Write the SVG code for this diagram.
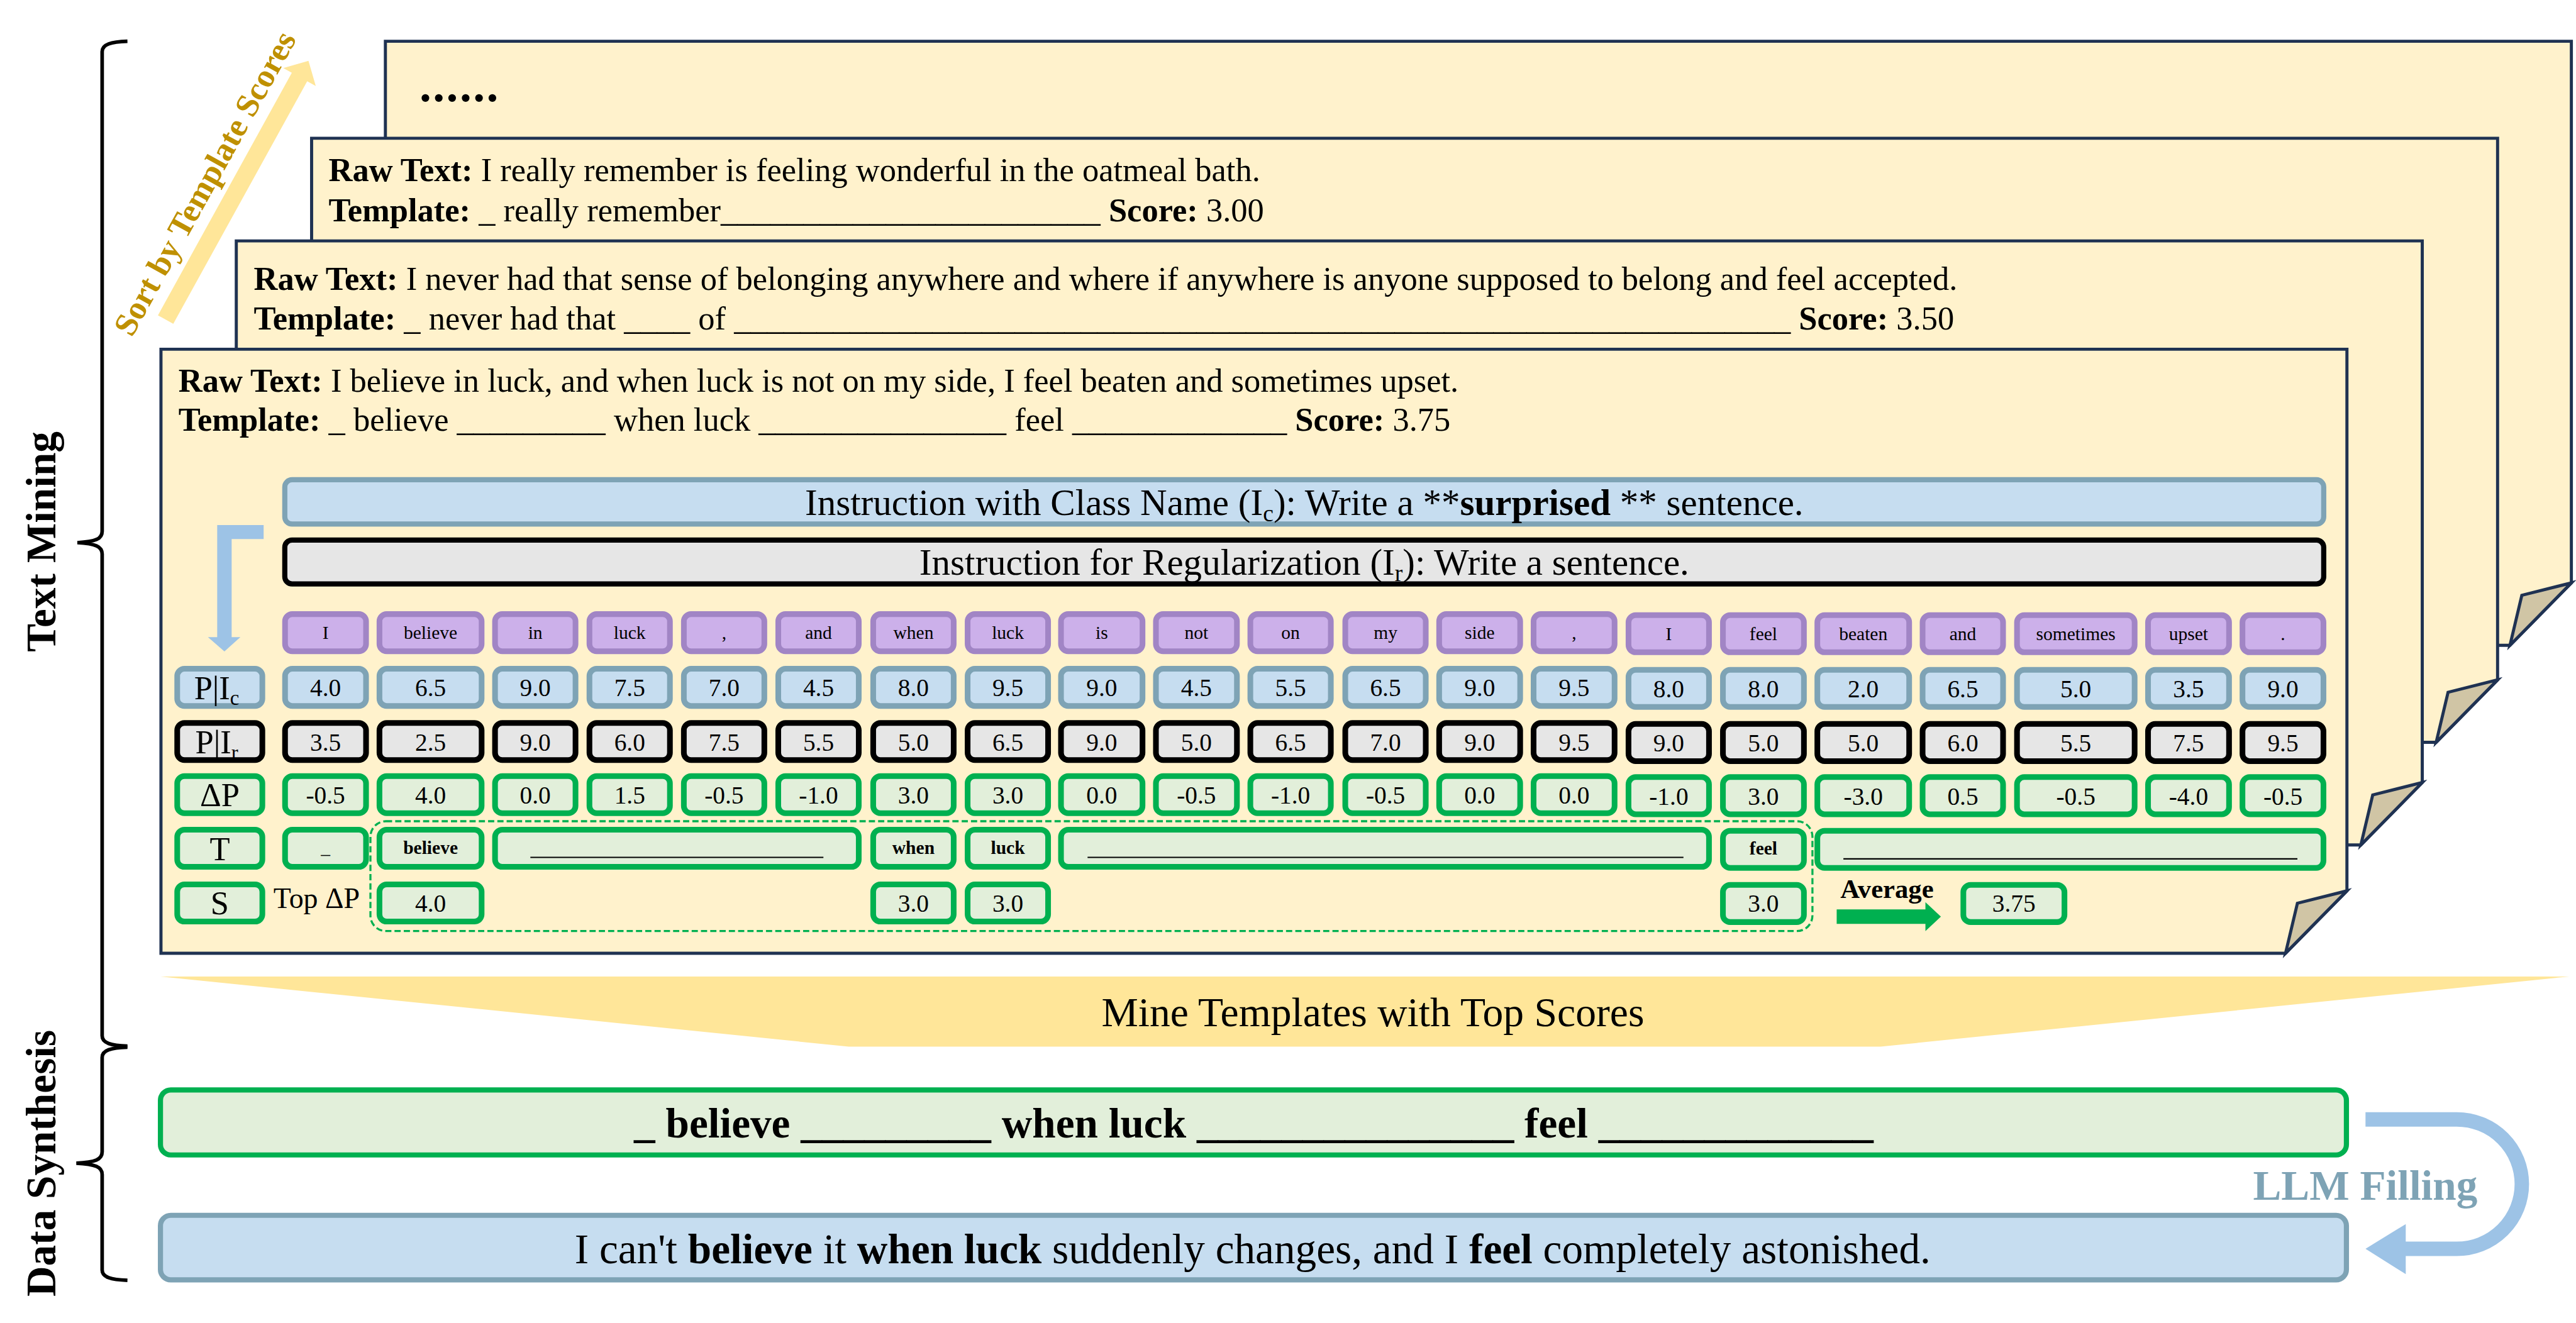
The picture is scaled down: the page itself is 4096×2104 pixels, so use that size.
<svg xmlns="http://www.w3.org/2000/svg" width="4096" height="2104" viewBox="0 0 4096 2104">
<style>
.card{fill:#FFF2CC;stroke:#1F3252;stroke-width:6;stroke-linejoin:miter}
.fold{fill:#D0C5A5;stroke:#1F3252;stroke-width:6;stroke-linejoin:miter}
.pur{fill:#CCB0EA;stroke:#A185C5;stroke-width:11}
.blu{fill:#C6DDF0;stroke:#7EA3B5;stroke-width:11}
.gry{fill:#E6E6E6;stroke:#000;stroke-width:11}
.grn{fill:#E2EFDA;stroke:#00B050;stroke-width:11}
.tk{font-size:36px;text-anchor:middle}
.nm{font-size:48px;text-anchor:middle}
.lb{font-size:64px;text-anchor:middle}
.ct{font-size:64px}
.ul{stroke:#000;stroke-width:2.5}
.brace{fill:none;stroke:#000;stroke-width:7}
text{fill:#000}
</style>
<rect width="4096" height="2104" fill="#fff"/>
<g transform="scale(0.82035)" font-family="'Liberation Serif','Times New Roman',serif">

<!-- cards -->
<g id="card4" transform="translate(747,80)">
<path class="card" d="M0,0 H4237 V1050 L4118,1171 H0 Z"/>
<path class="fold" d="M4237,1050 L4141,1074 L4118,1171 Z"/>
<text x="66" y="116" font-size="92" font-weight="bold" letter-spacing="3">......</text>
</g>
<g id="card3" transform="translate(604,268)">
<path class="card" d="M0,0 H4237 V1050 L4118,1171 H0 Z"/>
<path class="fold" d="M4237,1050 L4141,1074 L4118,1171 Z"/>
<text x="33" y="83" class="ct"><tspan font-weight="bold">Raw Text:</tspan> I really remember is feeling wonderful in the oatmeal bath.</text>
<text x="33" y="161" class="ct"><tspan font-weight="bold">Template:</tspan> _ really remember_______________________ <tspan font-weight="bold">Score:</tspan> 3.00</text>
</g>
<g id="card2" transform="translate(458,467)">
<path class="card" d="M0,0 H4237 V1050 L4118,1171 H0 Z"/>
<path class="fold" d="M4237,1050 L4141,1074 L4118,1171 Z"/>
<text x="34" y="95" class="ct"><tspan font-weight="bold">Raw Text:</tspan> I never had that sense of belonging anywhere and where if anywhere is anyone supposed to belong and feel accepted.</text>
<text x="34" y="172" class="ct"><tspan font-weight="bold">Template:</tspan> _ never had that ____ of ________________________________________________________________ <tspan font-weight="bold">Score:</tspan> 3.50</text>
</g>
<g id="card1" transform="translate(312,677)">
<path class="card" d="M0,0 H4237 V1050 L4118,1171 H0 Z"/>
<path class="fold" d="M4237,1050 L4141,1074 L4118,1171 Z"/>
<text x="34" y="82" class="ct"><tspan font-weight="bold">Raw Text:</tspan> I believe in luck, and when luck is not on my side, I feel beaten and sometimes upset.</text>
<text x="34" y="158" class="ct"><tspan font-weight="bold">Template:</tspan> _ believe _________ when luck _______________ feel _____________ <tspan font-weight="bold">Score:</tspan> 3.75</text>
</g>

<!-- sort arrow -->
<g id="sort" transform="translate(321,619.5) rotate(-61.1)">
<path d="M0,-17 L537,-17 L537,-36 L573,0 L537,36 L537,17 L0,17 Z" fill="#FFE699"/>
<text x="268" y="-40" font-size="64" font-weight="bold" style="fill:#BF9000" text-anchor="middle">Sort by Template Scores</text>
</g>

<!-- braces and section labels -->
<g id="textmining">
<path class="brace" d="M247,80 C215,81 198,86 198,100 V1030 C198,1045 185,1050 150,1052 C185,1054 198,1059 198,1074 V2008 C198,2022 215,2027 247,2028"/>
<text transform="translate(107,1050) rotate(-90)" font-size="82" font-weight="bold" text-anchor="middle">Text Mining</text>
</g>
<g id="datasynthesis">
<path class="brace" d="M247,2030 C215,2031 198,2036 198,2050 V2233 C198,2248 185,2253 148,2255 C185,2257 198,2262 198,2277 V2462 C198,2476 215,2481 247,2482"/>
<text transform="translate(107,2255) rotate(-90)" font-size="82" font-weight="bold" text-anchor="middle">Data Synthesis</text>
</g>

<!-- instructions -->
<g id="instr_c">
<rect class="blu" x="552" y="930" width="3952" height="86" rx="14" style="stroke-width:10"/>
<text x="2528" y="998" font-size="72" text-anchor="middle">Instruction with Class Name (I<tspan font-size="46" dy="12">c</tspan><tspan dy="-12">): Write a **</tspan><tspan font-weight="bold">surprised</tspan> ** sentence.</text>
</g>
<g id="instr_r">
<rect class="gry" x="552" y="1047" width="3952" height="85" rx="14" style="stroke-width:10"/>
<text x="2528" y="1114" font-size="72" text-anchor="middle">Instruction for Regularization (I<tspan font-size="46" dy="12">r</tspan><tspan dy="-12">): Write a sentence.</tspan></text>
</g>

<!-- L arrow -->
<g id="larrow">
<path d="M421,1018 H511 V1045 H449 V1235 H466 L435,1263 L403,1235 H421 Z" fill="#9DC3E6"/>
</g>

<!-- row labels -->
<g id="lab_pc"><rect class="blu" x="343.5" y="1296.5" width="165" height="72" rx="14"/><text x="420" y="1355" class="lb">P|I<tspan font-size="40" dy="12">c</tspan></text></g>
<g id="lab_pr"><rect class="gry" x="343.5" y="1401.5" width="165" height="72" rx="14"/><text x="420" y="1460" class="lb">P|I<tspan font-size="40" dy="12">r</tspan></text></g>
<g id="lab_dp"><rect class="grn" x="343.5" y="1504.5" width="165" height="72" rx="14"/><text x="426" y="1563" class="lb">ΔP</text></g>
<g id="lab_t"><rect class="grn" x="343.5" y="1608.5" width="165" height="72" rx="14"/><text x="426" y="1667" class="lb">T</text></g>
<g id="lab_s"><rect class="grn" x="343.5" y="1714.5" width="165" height="72" rx="14"/><text x="426" y="1773" class="lb">S</text></g>

<!-- token row -->
<g id="tok1"><rect class="pur" x="552.5" y="1190.5" width="157" height="72" rx="14"/><text x="631" y="1239" class="tk">I</text></g>
<g id="tok2"><rect class="pur" x="735.5" y="1190.5" width="198" height="72" rx="14"/><text x="834.5" y="1239" class="tk">believe</text></g>
<g id="tok3"><rect class="pur" x="959.5" y="1190.5" width="156" height="72" rx="14"/><text x="1037.5" y="1239" class="tk">in</text></g>
<g id="tok4"><rect class="pur" x="1142.5" y="1190.5" width="156" height="72" rx="14"/><text x="1220.5" y="1239" class="tk">luck</text></g>
<g id="tok5"><rect class="pur" x="1325.5" y="1190.5" width="156" height="72" rx="14"/><text x="1403.5" y="1239" class="tk">,</text></g>
<g id="tok6"><rect class="pur" x="1508.5" y="1190.5" width="156" height="72" rx="14"/><text x="1586.5" y="1239" class="tk">and</text></g>
<g id="tok7"><rect class="pur" x="1692.5" y="1190.5" width="156" height="72" rx="14"/><text x="1770.5" y="1239" class="tk">when</text></g>
<g id="tok8"><rect class="pur" x="1875.5" y="1190.5" width="156" height="72" rx="14"/><text x="1953.5" y="1239" class="tk">luck</text></g>
<g id="tok9"><rect class="pur" x="2056.5" y="1190.5" width="158" height="72" rx="14"/><text x="2135.5" y="1239" class="tk">is</text></g>
<g id="tok10"><rect class="pur" x="2240.5" y="1190.5" width="157" height="72" rx="14"/><text x="2319" y="1239" class="tk">not</text></g>
<g id="tok11"><rect class="pur" x="2423.5" y="1190.5" width="156" height="72" rx="14"/><text x="2501.5" y="1239" class="tk">on</text></g>
<g id="tok12"><rect class="pur" x="2607.5" y="1190.5" width="156" height="72" rx="14"/><text x="2685.5" y="1239" class="tk">my</text></g>
<g id="tok13"><rect class="pur" x="2789.5" y="1190.5" width="157" height="72" rx="14"/><text x="2868" y="1239" class="tk">side</text></g>
<g id="tok14"><rect class="pur" x="2972.5" y="1190.5" width="157" height="72" rx="14"/><text x="3051" y="1239" class="tk">,</text></g>
<g id="tok15"><rect class="pur" x="3156.5" y="1192.5" width="156" height="72" rx="14"/><text x="3234.5" y="1241" class="tk">I</text></g>
<g id="tok16"><rect class="pur" x="3339.5" y="1192.5" width="157" height="72" rx="14"/><text x="3418" y="1241" class="tk">feel</text></g>
<g id="tok17"><rect class="pur" x="3522.5" y="1192.5" width="178" height="72" rx="14"/><text x="3611.5" y="1241" class="tk">beaten</text></g>
<g id="tok18"><rect class="pur" x="3726.5" y="1192.5" width="156" height="72" rx="14"/><text x="3804.5" y="1241" class="tk">and</text></g>
<g id="tok19"><rect class="pur" x="3909.5" y="1192.5" width="228" height="72" rx="14"/><text x="4023.5" y="1241" class="tk">sometimes</text></g>
<g id="tok20"><rect class="pur" x="4163.5" y="1192.5" width="157" height="72" rx="14"/><text x="4242" y="1241" class="tk">upset</text></g>
<g id="tok21"><rect class="pur" x="4346.5" y="1192.5" width="157" height="72" rx="14"/><text x="4425" y="1241" class="tk">.</text></g>

<!-- P|Ic row -->
<g id="pc1"><rect class="blu" x="552.5" y="1296.5" width="157" height="72" rx="14"/><text x="631" y="1350" class="nm">4.0</text></g>
<g id="pc2"><rect class="blu" x="735.5" y="1296.5" width="198" height="72" rx="14"/><text x="834.5" y="1350" class="nm">6.5</text></g>
<g id="pc3"><rect class="blu" x="959.5" y="1296.5" width="156" height="72" rx="14"/><text x="1037.5" y="1350" class="nm">9.0</text></g>
<g id="pc4"><rect class="blu" x="1142.5" y="1296.5" width="156" height="72" rx="14"/><text x="1220.5" y="1350" class="nm">7.5</text></g>
<g id="pc5"><rect class="blu" x="1325.5" y="1296.5" width="156" height="72" rx="14"/><text x="1403.5" y="1350" class="nm">7.0</text></g>
<g id="pc6"><rect class="blu" x="1508.5" y="1296.5" width="156" height="72" rx="14"/><text x="1586.5" y="1350" class="nm">4.5</text></g>
<g id="pc7"><rect class="blu" x="1692.5" y="1296.5" width="156" height="72" rx="14"/><text x="1770.5" y="1350" class="nm">8.0</text></g>
<g id="pc8"><rect class="blu" x="1875.5" y="1296.5" width="156" height="72" rx="14"/><text x="1953.5" y="1350" class="nm">9.5</text></g>
<g id="pc9"><rect class="blu" x="2056.5" y="1296.5" width="158" height="72" rx="14"/><text x="2135.5" y="1350" class="nm">9.0</text></g>
<g id="pc10"><rect class="blu" x="2240.5" y="1296.5" width="157" height="72" rx="14"/><text x="2319" y="1350" class="nm">4.5</text></g>
<g id="pc11"><rect class="blu" x="2423.5" y="1296.5" width="156" height="72" rx="14"/><text x="2501.5" y="1350" class="nm">5.5</text></g>
<g id="pc12"><rect class="blu" x="2607.5" y="1296.5" width="156" height="72" rx="14"/><text x="2685.5" y="1350" class="nm">6.5</text></g>
<g id="pc13"><rect class="blu" x="2789.5" y="1296.5" width="157" height="72" rx="14"/><text x="2868" y="1350" class="nm">9.0</text></g>
<g id="pc14"><rect class="blu" x="2972.5" y="1296.5" width="157" height="72" rx="14"/><text x="3051" y="1350" class="nm">9.5</text></g>
<g id="pc15"><rect class="blu" x="3156.5" y="1298.5" width="156" height="72" rx="14"/><text x="3234.5" y="1352" class="nm">8.0</text></g>
<g id="pc16"><rect class="blu" x="3339.5" y="1298.5" width="157" height="72" rx="14"/><text x="3418" y="1352" class="nm">8.0</text></g>
<g id="pc17"><rect class="blu" x="3522.5" y="1298.5" width="178" height="72" rx="14"/><text x="3611.5" y="1352" class="nm">2.0</text></g>
<g id="pc18"><rect class="blu" x="3726.5" y="1298.5" width="156" height="72" rx="14"/><text x="3804.5" y="1352" class="nm">6.5</text></g>
<g id="pc19"><rect class="blu" x="3909.5" y="1298.5" width="228" height="72" rx="14"/><text x="4023.5" y="1352" class="nm">5.0</text></g>
<g id="pc20"><rect class="blu" x="4163.5" y="1298.5" width="157" height="72" rx="14"/><text x="4242" y="1352" class="nm">3.5</text></g>
<g id="pc21"><rect class="blu" x="4346.5" y="1298.5" width="157" height="72" rx="14"/><text x="4425" y="1352" class="nm">9.0</text></g>

<!-- P|Ir row -->
<g id="pr1"><rect class="gry" x="552.5" y="1401.5" width="157" height="72" rx="14"/><text x="631" y="1455" class="nm">3.5</text></g>
<g id="pr2"><rect class="gry" x="735.5" y="1401.5" width="198" height="72" rx="14"/><text x="834.5" y="1455" class="nm">2.5</text></g>
<g id="pr3"><rect class="gry" x="959.5" y="1401.5" width="156" height="72" rx="14"/><text x="1037.5" y="1455" class="nm">9.0</text></g>
<g id="pr4"><rect class="gry" x="1142.5" y="1401.5" width="156" height="72" rx="14"/><text x="1220.5" y="1455" class="nm">6.0</text></g>
<g id="pr5"><rect class="gry" x="1325.5" y="1401.5" width="156" height="72" rx="14"/><text x="1403.5" y="1455" class="nm">7.5</text></g>
<g id="pr6"><rect class="gry" x="1508.5" y="1401.5" width="156" height="72" rx="14"/><text x="1586.5" y="1455" class="nm">5.5</text></g>
<g id="pr7"><rect class="gry" x="1692.5" y="1401.5" width="156" height="72" rx="14"/><text x="1770.5" y="1455" class="nm">5.0</text></g>
<g id="pr8"><rect class="gry" x="1875.5" y="1401.5" width="156" height="72" rx="14"/><text x="1953.5" y="1455" class="nm">6.5</text></g>
<g id="pr9"><rect class="gry" x="2056.5" y="1401.5" width="158" height="72" rx="14"/><text x="2135.5" y="1455" class="nm">9.0</text></g>
<g id="pr10"><rect class="gry" x="2240.5" y="1401.5" width="157" height="72" rx="14"/><text x="2319" y="1455" class="nm">5.0</text></g>
<g id="pr11"><rect class="gry" x="2423.5" y="1401.5" width="156" height="72" rx="14"/><text x="2501.5" y="1455" class="nm">6.5</text></g>
<g id="pr12"><rect class="gry" x="2607.5" y="1401.5" width="156" height="72" rx="14"/><text x="2685.5" y="1455" class="nm">7.0</text></g>
<g id="pr13"><rect class="gry" x="2789.5" y="1401.5" width="157" height="72" rx="14"/><text x="2868" y="1455" class="nm">9.0</text></g>
<g id="pr14"><rect class="gry" x="2972.5" y="1401.5" width="157" height="72" rx="14"/><text x="3051" y="1455" class="nm">9.5</text></g>
<g id="pr15"><rect class="gry" x="3156.5" y="1403.5" width="156" height="72" rx="14"/><text x="3234.5" y="1457" class="nm">9.0</text></g>
<g id="pr16"><rect class="gry" x="3339.5" y="1403.5" width="157" height="72" rx="14"/><text x="3418" y="1457" class="nm">5.0</text></g>
<g id="pr17"><rect class="gry" x="3522.5" y="1403.5" width="178" height="72" rx="14"/><text x="3611.5" y="1457" class="nm">5.0</text></g>
<g id="pr18"><rect class="gry" x="3726.5" y="1403.5" width="156" height="72" rx="14"/><text x="3804.5" y="1457" class="nm">6.0</text></g>
<g id="pr19"><rect class="gry" x="3909.5" y="1403.5" width="228" height="72" rx="14"/><text x="4023.5" y="1457" class="nm">5.5</text></g>
<g id="pr20"><rect class="gry" x="4163.5" y="1403.5" width="157" height="72" rx="14"/><text x="4242" y="1457" class="nm">7.5</text></g>
<g id="pr21"><rect class="gry" x="4346.5" y="1403.5" width="157" height="72" rx="14"/><text x="4425" y="1457" class="nm">9.5</text></g>

<!-- Delta P row -->
<g id="dp1"><rect class="grn" x="552.5" y="1504.5" width="157" height="72" rx="14"/><text x="631" y="1558" class="nm">-0.5</text></g>
<g id="dp2"><rect class="grn" x="735.5" y="1504.5" width="198" height="72" rx="14"/><text x="834.5" y="1558" class="nm">4.0</text></g>
<g id="dp3"><rect class="grn" x="959.5" y="1504.5" width="156" height="72" rx="14"/><text x="1037.5" y="1558" class="nm">0.0</text></g>
<g id="dp4"><rect class="grn" x="1142.5" y="1504.5" width="156" height="72" rx="14"/><text x="1220.5" y="1558" class="nm">1.5</text></g>
<g id="dp5"><rect class="grn" x="1325.5" y="1504.5" width="156" height="72" rx="14"/><text x="1403.5" y="1558" class="nm">-0.5</text></g>
<g id="dp6"><rect class="grn" x="1508.5" y="1504.5" width="156" height="72" rx="14"/><text x="1586.5" y="1558" class="nm">-1.0</text></g>
<g id="dp7"><rect class="grn" x="1692.5" y="1504.5" width="156" height="72" rx="14"/><text x="1770.5" y="1558" class="nm">3.0</text></g>
<g id="dp8"><rect class="grn" x="1875.5" y="1504.5" width="156" height="72" rx="14"/><text x="1953.5" y="1558" class="nm">3.0</text></g>
<g id="dp9"><rect class="grn" x="2056.5" y="1504.5" width="158" height="72" rx="14"/><text x="2135.5" y="1558" class="nm">0.0</text></g>
<g id="dp10"><rect class="grn" x="2240.5" y="1504.5" width="157" height="72" rx="14"/><text x="2319" y="1558" class="nm">-0.5</text></g>
<g id="dp11"><rect class="grn" x="2423.5" y="1504.5" width="156" height="72" rx="14"/><text x="2501.5" y="1558" class="nm">-1.0</text></g>
<g id="dp12"><rect class="grn" x="2607.5" y="1504.5" width="156" height="72" rx="14"/><text x="2685.5" y="1558" class="nm">-0.5</text></g>
<g id="dp13"><rect class="grn" x="2789.5" y="1504.5" width="157" height="72" rx="14"/><text x="2868" y="1558" class="nm">0.0</text></g>
<g id="dp14"><rect class="grn" x="2972.5" y="1504.5" width="157" height="72" rx="14"/><text x="3051" y="1558" class="nm">0.0</text></g>
<g id="dp15"><rect class="grn" x="3156.5" y="1506.5" width="156" height="72" rx="14"/><text x="3234.5" y="1560" class="nm">-1.0</text></g>
<g id="dp16"><rect class="grn" x="3339.5" y="1506.5" width="157" height="72" rx="14"/><text x="3418" y="1560" class="nm">3.0</text></g>
<g id="dp17"><rect class="grn" x="3522.5" y="1506.5" width="178" height="72" rx="14"/><text x="3611.5" y="1560" class="nm">-3.0</text></g>
<g id="dp18"><rect class="grn" x="3726.5" y="1506.5" width="156" height="72" rx="14"/><text x="3804.5" y="1560" class="nm">0.5</text></g>
<g id="dp19"><rect class="grn" x="3909.5" y="1506.5" width="228" height="72" rx="14"/><text x="4023.5" y="1560" class="nm">-0.5</text></g>
<g id="dp20"><rect class="grn" x="4163.5" y="1506.5" width="157" height="72" rx="14"/><text x="4242" y="1560" class="nm">-4.0</text></g>
<g id="dp21"><rect class="grn" x="4346.5" y="1506.5" width="157" height="72" rx="14"/><text x="4425" y="1560" class="nm">-0.5</text></g>

<!-- T row -->
<g id="t1"><rect class="grn" x="552.5" y="1608.5" width="157" height="72" rx="14"/><text x="631" y="1655" class="tk">_</text></g>
<g id="t2"><rect class="grn" x="735.5" y="1608.5" width="198" height="72" rx="14"/><text x="834.5" y="1655" class="tk" font-weight="bold">believe</text></g>
<g id="t3"><rect class="grn" x="959.5" y="1608.5" width="705" height="72" rx="14"/><line class="ul" x1="1028" y1="1662" x2="1596" y2="1662"/></g>
<g id="t7"><rect class="grn" x="1692.5" y="1608.5" width="156" height="72" rx="14"/><text x="1770.5" y="1655" class="tk" font-weight="bold">when</text></g>
<g id="t8"><rect class="grn" x="1875.5" y="1608.5" width="156" height="72" rx="14"/><text x="1953.5" y="1655" class="tk" font-weight="bold">luck</text></g>
<g id="t9"><rect class="grn" x="2056.5" y="1608.5" width="1256" height="72" rx="14"/><line class="ul" x1="2108" y1="1662" x2="3263" y2="1662"/></g>
<g id="t16"><rect class="grn" x="3339.5" y="1610.5" width="157" height="72" rx="14"/><text x="3418" y="1657" class="tk" font-weight="bold">feel</text></g>
<g id="t17"><rect class="grn" x="3522.5" y="1610.5" width="981" height="72" rx="14"/><line class="ul" x1="3573" y1="1665" x2="4453" y2="1665"/></g>

<!-- S row -->
<text x="530" y="1760" font-size="56">Top ΔP</text>
<g id="s2"><rect class="grn" x="735.5" y="1714.5" width="198" height="72" rx="14"/><text x="834.5" y="1767" class="nm">4.0</text></g>
<g id="s7"><rect class="grn" x="1692.5" y="1714.5" width="156" height="72" rx="14"/><text x="1770.5" y="1767" class="nm">3.0</text></g>
<g id="s8"><rect class="grn" x="1875.5" y="1714.5" width="156" height="72" rx="14"/><text x="1953.5" y="1767" class="nm">3.0</text></g>
<g id="s16"><rect class="grn" x="3339.5" y="1715.5" width="157" height="72" rx="14"/><text x="3418" y="1768" class="nm">3.0</text></g>
<rect x="718" y="1592" width="2795" height="213" rx="30" fill="none" stroke="#00B050" stroke-width="4" stroke-dasharray="12 6"/>

<!-- average -->
<g id="average">
<text x="3567" y="1741" font-size="52" font-weight="bold">Average</text>
<path d="M3560,1763 H3732 V1749 L3762,1777 L3732,1805 V1791 H3560 Z" fill="#00B050"/>
</g>
<g id="avgval"><rect class="grn" x="3805.5" y="1715.5" width="196" height="72" rx="14"/><text x="3903.5" y="1768" class="nm">3.75</text></g>

<!-- mine templates -->
<g id="mine">
<path d="M311,1893 H4980 L3645,2029 H1645 Z" fill="#FFE699"/>
<text x="2661" y="1990" font-size="80" text-anchor="middle">Mine Templates with Top Scores</text>
</g>

<!-- template box -->
<g id="template">
<rect x="311" y="2113" width="4237" height="126" rx="20" fill="#E2EFDA" stroke="#00B050" stroke-width="10"/>
<text x="2430" y="2205" font-size="82" font-weight="bold" text-anchor="middle">_ believe _________ when luck _______________ feel _____________</text>
</g>

<!-- output box -->
<g id="output">
<rect x="311" y="2356" width="4237" height="125" rx="20" fill="#C6DDF0" stroke="#7EA3B5" stroke-width="10"/>
<text x="2428" y="2449" font-size="82" text-anchor="middle">I can't <tspan font-weight="bold">believe</tspan> it <tspan font-weight="bold">when luck</tspan> suddenly changes, and I <tspan font-weight="bold">feel</tspan> completely astonished.</text>
</g>

<!-- connectors -->
<g id="connectors">
<path d="M4585,2170 H4762 A126,125.5 0 0 1 4762,2421 H4660" fill="none" stroke="#9DC3E6" stroke-width="28"/>
<path d="M4663,2373 L4585,2421 L4663,2470 Z" fill="#9DC3E6"/>
<text x="4367" y="2326" font-size="82" font-weight="bold" style="fill:#7EA3B5">LLM Filling</text>
</g>

</g>
</svg>
